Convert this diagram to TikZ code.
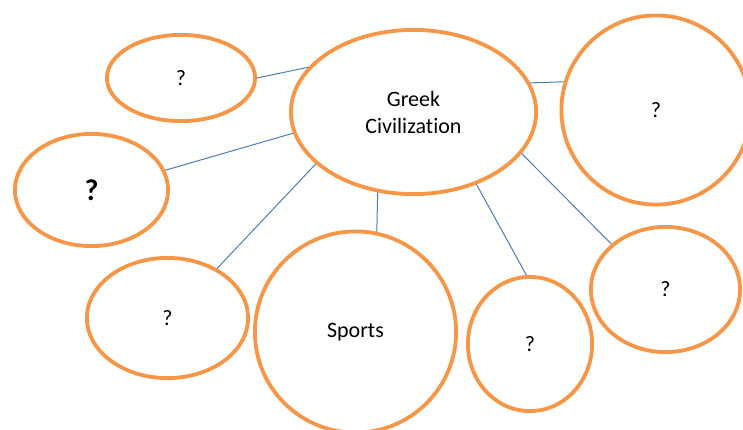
\documentclass[tikz,border=0pt]{standalone}
\usepackage{fontspec}
\setmainfont{Carlito}[Ligatures={NoCommon}]
\usetikzlibrary{shapes.geometric}
\definecolor{borange}{HTML}{F79646}
\definecolor{lblue}{HTML}{4A7EBB}
\tikzset{
  bubble/.style={ellipse, draw=borange, line width=3.8bp, inner sep=0pt,
    font=\fontsize{22bp}{27bp}\selectfont, align=center, text=black},
  link/.style={draw=lblue, line width=1bp}
}
\begin{document}
\begin{tikzpicture}[x=1bp,y=-1bp]
\useasboundingbox (0,0) rectangle (743,429);
\node[bubble, minimum width=245.2bp, minimum height=164.2bp] (c) at (413.5,112) {Greek\\Civilization};
\node[bubble, minimum width=148.2bp, minimum height=86.2bp] (tl) at (181,78) {?};
\node[bubble, minimum width=189.2bp, minimum height=189.2bp] (r) at (656,110) {?};
\node[bubble, minimum width=153.2bp, minimum height=112.2bp, font=\fontsize{30bp}{34bp}\selectfont\bfseries] (l) at (91.5,190) {?};
\node[bubble, minimum width=161.2bp, minimum height=120.2bp] (bl) at (167.5,318) {?};
\node[bubble, minimum width=201.2bp, minimum height=201.2bp] (sp) at (355.5,332) {Sports};
\node[bubble, minimum width=124.2bp, minimum height=134.2bp] (b) at (530,344) {?};
\node[bubble, minimum width=149.2bp, minimum height=125.2bp] (rr) at (665.5,289.5) {?};
\draw[link] (tl.-0.7) -- (c.157.7);
\draw[link] (c.14.2) -- (r.163.5);
\draw[link] (l.15.3) -- (c.190.3);
\draw[link] (bl.45.3) -- (c.208.2);
\draw[link] (c.246.8) -- (sp.78);
\draw[link] (c.311.4) -- (b.93.4);
\draw[link] (c.339.25) -- (rr.140.2);
\end{tikzpicture}
\end{document}
